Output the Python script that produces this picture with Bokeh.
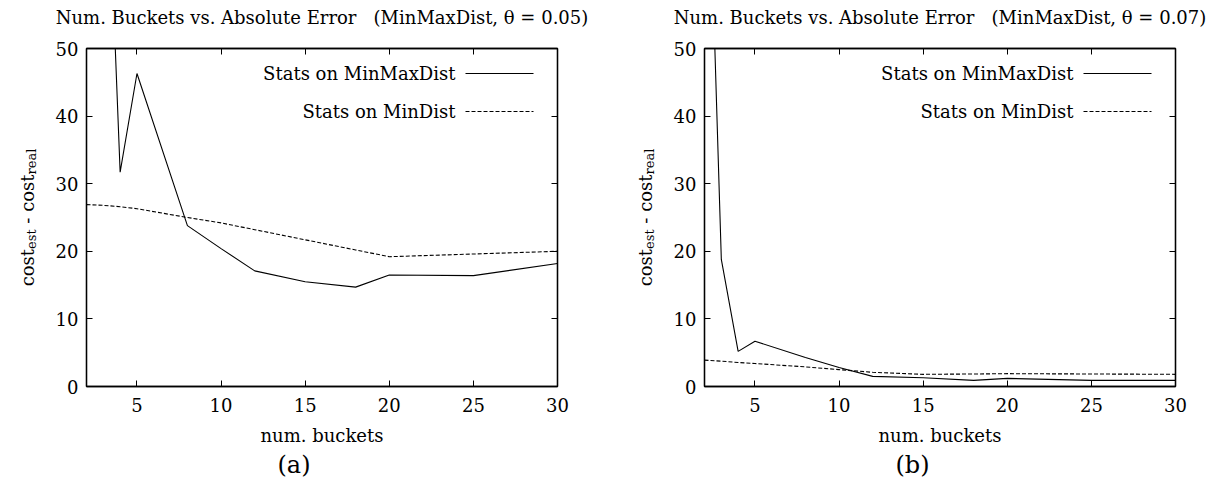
from bokeh.plotting import figure
from bokeh.models import LinearAxis, FixedTicker, Label, Arrow, Range1d, Title
from bokeh.layouts import row, column
from bokeh.embed import file_html
from bokeh.resources import INLINE

# number of histogram buckets
buckets = [2, 3, 4, 5, 8, 10, 12, 15, 18, 20, 25, 30]

# (a) theta = 0.05
err_minmax_a = [120, 95, 31.7, 46.3, 23.8, 20.4, 17.1, 15.5, 14.7, 16.5, 16.4, 18.2]
err_mindist_a = [26.9, 26.8, 26.6, 26.3, 25.0, 24.2, 23.2, 21.7, 20.2, 19.2, 19.6, 20.0]

# (b) theta = 0.07
err_minmax_b = [100, 18.8, 5.2, 6.7, 4.3, 2.8, 1.5, 1.3, 0.9, 1.2, 0.9, 0.9]
err_mindist_b = [3.9, 3.75, 3.55, 3.4, 2.9, 2.5, 2.1, 1.8, 1.85, 1.9, 1.85, 1.8]

x_ticks = [5, 10, 15, 20, 25, 30]
y_ticks = [0, 10, 20, 30, 40, 50]
series_names = ["Stats on MinMaxDist", "Stats on MinDist"]
GAP = "\u00a0\u00a0\u00a0"
titles = ["Num. Buckets vs. Absolute Error" + GAP + "(MinMaxDist, \u03b8 = 0.05)",
          "Num. Buckets vs. Absolute Error" + GAP + "(MinMaxDist, \u03b8 = 0.07)"]
tags = ["(a)", "(b)"]
x_label = "num. buckets"
# y label pieces: (text, is_subscript)
y_label_parts = [("cost", False), ("est", True), ("\u00a0-\u00a0cost", False), ("real", True)]

FONT = "DejaVu Serif"
FS = "18px"
SUB_FS = "13px"

FRAME_W = 471
FRAME_H = 338
HEAD_H = 34
BODY_H = 495 - HEAD_H

# DejaVu Serif advance widths (em) for laying out the y label pieces
ADV = {"c": 0.560, "o": 0.602, "s": 0.513, "t": 0.402, " ": 0.318, "\u00a0": 0.318,
       "-": 0.338, "e": 0.592, "r": 0.478, "a": 0.596, "l": 0.320}


def text_len(s, size):
    return sum(ADV[ch] for ch in s) * size


def blank_figure(width, height):
    f = figure(width=width, height=height, x_range=Range1d(0, width),
               y_range=Range1d(0, height), x_axis_type=None, y_axis_type=None,
               output_backend="svg", toolbar_location=None, min_border=0)
    f.grid.visible = False
    f.outline_line_color = None
    f.background_fill_color = "white"
    f.border_fill_color = "white"
    return f


def header(title, center_x, width):
    f = blank_figure(width, HEAD_H)
    f.add_layout(Label(x=center_x, y=HEAD_H - 17, x_units="screen", y_units="screen",
                       text=title, text_align="center", text_baseline="middle",
                       text_font=FONT, text_font_size="18px", text_color="black"))
    return f


def y_label_strip(width, baseline_x):
    # the strip's frame lines up with the neighbouring plot frame
    f = blank_figure(width, BODY_H)
    lens = [text_len(s, 13 if sub else 18) for s, sub in y_label_parts]
    pos = FRAME_H / 2 - sum(lens) / 2
    for (s, sub), ln in zip(y_label_parts, lens):
        f.add_layout(Label(x=baseline_x + (4 if sub else 0), y=pos,
                           x_units="screen", y_units="screen",
                           text=s, angle=1.5707963, text_align="left",
                           text_baseline="alphabetic", text_font=FONT,
                           text_font_size=SUB_FS if sub else FS, text_color="black"))
        pos += ln
    return f


def style_axis(ax, ticks, show_labels=True):
    ax.ticker = FixedTicker(ticks=ticks)
    ax.major_tick_in = 6
    ax.major_tick_out = 0
    ax.minor_tick_line_color = None
    ax.axis_line_color = "black"
    ax.axis_line_width = 1.3
    ax.major_tick_line_color = "black"
    ax.major_tick_line_width = 1
    ax.major_label_text_font = FONT
    if show_labels:
        ax.major_label_text_font_size = FS
        ax.major_label_text_color = "black"
    else:
        # mirrored tick marks only
        ax.major_label_text_font_size = "1px"
        ax.major_label_text_color = None
        ax.major_label_standoff = 0


def make_panel(minmax, mindist, tag, border_left, border_right):
    p = figure(width=border_left + FRAME_W + border_right, height=BODY_H,
               x_range=Range1d(2, 30), y_range=Range1d(0, 50),
               output_backend="svg", toolbar_location=None,
               min_border_left=border_left, min_border_right=border_right,
               min_border_top=48 - HEAD_H, min_border_bottom=109)
    p.grid.visible = False
    p.outline_line_color = "black"
    p.outline_line_width = 1.3
    p.background_fill_color = "white"
    p.border_fill_color = "white"

    xb = p.below[0]
    yl = p.left[0]
    style_axis(xb, x_ticks)
    style_axis(yl, y_ticks)
    xb.major_label_standoff = 11
    yl.major_label_standoff = 8
    xb.axis_label = x_label
    xb.axis_label_text_font = FONT
    xb.axis_label_text_font_size = FS
    xb.axis_label_text_font_style = "normal"
    xb.axis_label_text_color = "black"
    xb.axis_label_standoff = 10

    xa = LinearAxis()
    style_axis(xa, x_ticks, show_labels=False)
    p.add_layout(xa, "above")
    yr = LinearAxis()
    style_axis(yr, y_ticks, show_labels=False)
    p.add_layout(yr, "right")

    p.line(buckets, minmax, line_color="black", line_width=1.1)
    p.line(buckets, mindist, line_color="black", line_width=1.1, line_dash="4 2")

    # legend: right-aligned text followed by the line sample
    for i, (name, dash) in enumerate(zip(series_names, ["solid", "4 2"])):
        yy = FRAME_H - 25 - 38 * i
        p.add_layout(Label(x=369, y=yy, x_units="screen", y_units="screen",
                           text=name, text_align="right", text_baseline="middle",
                           text_font=FONT, text_font_size=FS, text_color="black"))
        p.add_layout(Arrow(x_start=379, y_start=yy, x_end=447, y_end=yy,
                           start_units="screen", end_units="screen",
                           start=None, end=None, line_color="black",
                           line_width=1.1, line_dash=dash))

    # panel tag under the axis label
    p.add_layout(Title(text=tag, align="left", offset=191, text_font=FONT,
                       text_font_size="24px", text_font_style="normal",
                       text_color="black", standoff=0), "below")
    return p


# left half: 40 px label strip + plot; right half: 50 px label strip + plot
strip_a = y_label_strip(40, 27)
pa = make_panel(err_minmax_a, err_mindist_a, tags[0], 46, 50)
strip_b = y_label_strip(50, 38)
pb = make_panel(err_minmax_b, err_mindist_b, tags[1], 47, 39)

head_a = header(titles[0], 86 + FRAME_W / 2, 607)
head_b = header(titles[1], 97 + FRAME_W / 2, 607)

layout = column(row(head_a, head_b, spacing=0),
                row(strip_a, pa, strip_b, pb, spacing=0), spacing=0)
open("out.html", "w").write(file_html(layout, INLINE))
